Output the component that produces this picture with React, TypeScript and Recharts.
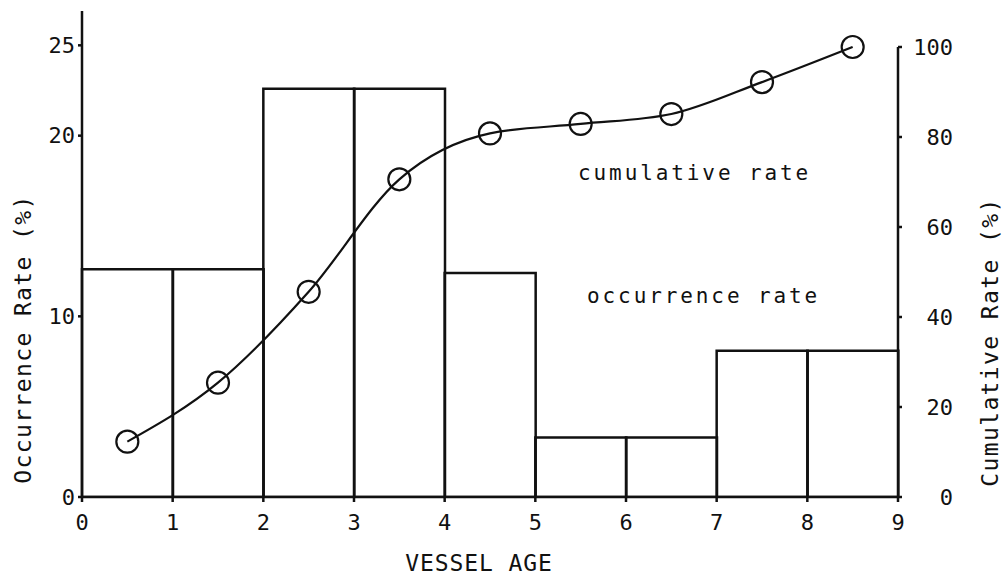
import React from 'react';
import {
  Bar,
  ComposedChart,
  Line,
  ReferenceLine,
  XAxis,
  YAxis,
} from 'recharts';

const ageBins = ['0-1', '1-2', '2-3', '3-4', '4-5', '5-6', '6-7', '7-8', '8-9'];
const occurrenceRate = [12.6, 12.6, 22.6, 22.6, 12.4, 3.3, 3.3, 8.1, 8.1];
const cumulativeRate = [12.3, 25.4, 45.6, 70.6, 80.8, 82.9, 85.1, 92.2, 100];
const ageTicks = [0, 1, 2, 3, 4, 5, 6, 7, 8, 9];
const occurrenceTicks = [0, 10, 20, 25];
const cumulativeTicks = [0, 20, 40, 60, 80, 100];

const data = ageBins.map((bin, i) => ({
  bin,
  occurrence: occurrenceRate[i],
  cumulative: cumulativeRate[i],
}));

const W = 1007;
const H = 579;
const LEFT_W = 82;
const RIGHT_W = 109;
const BAND = (W - LEFT_W - RIGHT_W) / ageBins.length;

const FONT = '"DejaVu Sans Mono", monospace';
const INK = '#111';

// bins are categories, but the age ticks sit on the bin edges
const AgeTick = (props: any) => {
  const { x, y, index } = props;
  const edges = [{ px: x - BAND / 2, label: ageTicks[index] }];
  if (index === ageBins.length - 1) edges.push({ px: x + BAND / 2, label: ageTicks[index + 1] });
  return (
    <g>
      {edges.map((e) => (
        <g key={e.label}>
          <line x1={e.px} y1={y} x2={e.px} y2={y + 5} stroke={INK} strokeWidth={2.5} />
          <text x={e.px} y={y + 33} textAnchor="middle" fontFamily={FONT} fontSize={22} fill={INK}>
            {e.label}
          </text>
        </g>
      ))}
    </g>
  );
};

const RightTick = (props: any) => {
  const { x, y, payload } = props;
  return (
    <text x={x + 48} y={y} dy="0.36em" textAnchor="end" fontFamily={FONT} fontSize={22} fill={INK}>
      {payload.value}
    </text>
  );
};

const Circle = (props: any) => {
  const { cx, cy } = props;
  return <circle cx={cx} cy={cy} r={11} fill="none" stroke={INK} strokeWidth={2.2} />;
};

export default function App() {
  return (
    <div style={{ position: 'fixed', left: 0, top: 0, background: '#fff' }}>
      <ComposedChart
        width={W}
        height={H}
        data={data}
        margin={{ top: 11, right: 0, bottom: 0, left: 0 }}
        barCategoryGap={0}
        barGap={0}
      >
        <XAxis
          dataKey="bin"
          height={82}
          stroke={INK}
          strokeWidth={2.5}
          tickLine={false}
          tickSize={0}
          tickMargin={0}
          interval={0}
          tick={<AgeTick />}
        />
        <YAxis
          yAxisId="left"
          domain={[0, 26.9]}
          ticks={occurrenceTicks}
          width={LEFT_W}
          allowDataOverflow
          stroke={INK}
          strokeWidth={2.5}
          tickSize={4}
          tickMargin={3}
          tick={{ fontFamily: FONT, fontSize: 22, fill: INK }}
        />
        <YAxis
          yAxisId="right"
          orientation="right"
          domain={[0, 108]}
          ticks={cumulativeTicks}
          width={RIGHT_W}
          allowDataOverflow
          axisLine={false}
          stroke={INK}
          tickLine={{ stroke: INK, strokeWidth: 2.5 }}
          tickSize={4}
          tickMargin={3}
          tick={<RightTick />}
        />
        <Bar
          yAxisId="left"
          dataKey="occurrence"
          fill="none"
          stroke={INK}
          strokeWidth={2.5}
          isAnimationActive={false}
        />
        <Line
          yAxisId="right"
          dataKey="cumulative"
          type="monotone"
          stroke={INK}
          strokeWidth={2.2}
          dot={<Circle />}
          activeDot={false}
          isAnimationActive={false}
        />
        <ReferenceLine
          yAxisId="right"
          position="end"
          segment={[{ x: ageBins[ageBins.length - 1], y: 0 }, { x: ageBins[ageBins.length - 1], y: 100 }]}
          stroke={INK}
          strokeWidth={2.5}
        />
        <text x={578} y={180} fontFamily={FONT} fontSize={21} letterSpacing={2.9} fill={INK}>
          cumulative rate
        </text>
        <text x={587} y={303} fontFamily={FONT} fontSize={21} letterSpacing={2.9} fill={INK}>
          occurrence rate
        </text>
        <text
          x={23}
          y={339}
          transform="rotate(-90 23 339)"
          textAnchor="middle"
          dominantBaseline="central"
          fontFamily={FONT}
          fontSize={23}
          letterSpacing={1.4}
          fill={INK}
        >
          Occurrence Rate (%)
        </text>
        <text
          x={990}
          y={342}
          transform="rotate(-90 990 342)"
          textAnchor="middle"
          dominantBaseline="central"
          fontFamily={FONT}
          fontSize={23}
          letterSpacing={1.4}
          fill={INK}
        >
          Cumulative Rate (%)
        </text>
        <text x={479} y={571} textAnchor="middle" fontFamily={FONT} fontSize={23} letterSpacing={0.9} fill={INK}>
          VESSEL AGE
        </text>
      </ComposedChart>
    </div>
  );
}
